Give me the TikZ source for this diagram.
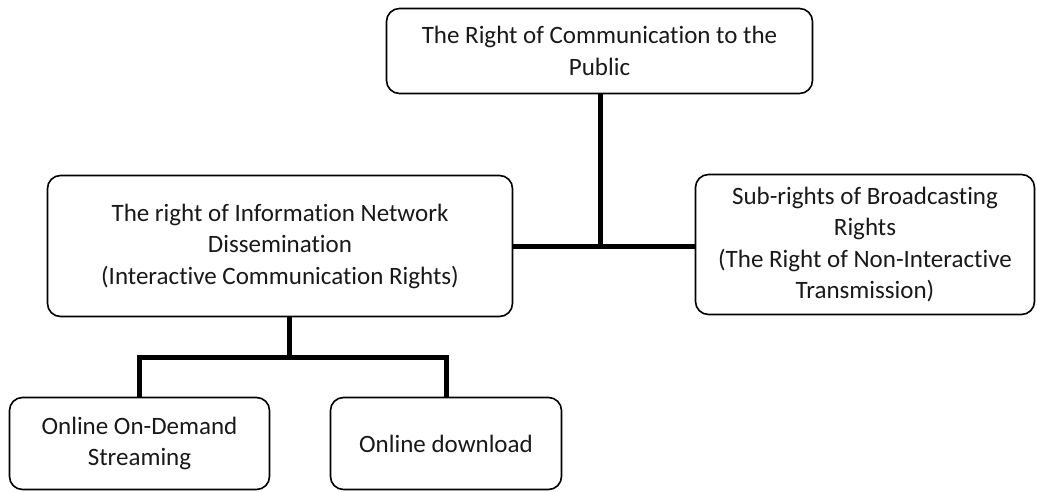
\documentclass[tikz,border=0pt]{standalone}
\usepackage{fontspec}
\setmainfont{Carlito}[Ligatures=NoCommon]
\begin{document}
\begin{tikzpicture}[x=1pt,y=-1pt,
  box/.style={draw=black,line width=1.6pt,rounded corners=13pt,fill=white,
    align=center,inner sep=0pt,font=\fontsize{25}{31.5}\selectfont,text=black!90},
  link/.style={draw=black,line width=5pt,line join=miter,line cap=butt}]
\useasboundingbox[fill=white] (0,0) rectangle (1037,491);

% boxes
\node[box,minimum width=426pt,minimum height=85pt] (top) at (599.5,51)
  {The Right of Communication to the\\Public};
\node[box,minimum width=465pt,minimum height=141pt] (inl) at (280,246)
  {The right of Information Network\\Dissemination\\(Interactive Communication Rights)};
\node[box,minimum width=339pt,minimum height=140pt] (rtb) at (865,244.5)
  {Sub-rights of Broadcasting\\Rights\\(The Right of Non-Interactive\\Transmission)};
\node[box,minimum width=260pt,minimum height=92pt] (bl) at (139.5,443.5)
  {Online On-Demand\\Streaming};
\node[box,minimum width=231pt,minimum height=92pt] (bm) at (446,443.5)
  {Online download};

% junctions
\coordinate (j1) at (600,246);
\coordinate (j2) at (289,357);

% connectors
\draw[link] (top.south -| j1) -- (j1);
\draw[link] (inl.east |- j1) -- (rtb.west |- j1);
\draw[link] (inl.south -| j2) -- (j2);
\draw[link] (bl.north) |- (j2) -| (bm.north);
\end{tikzpicture}
\end{document}
